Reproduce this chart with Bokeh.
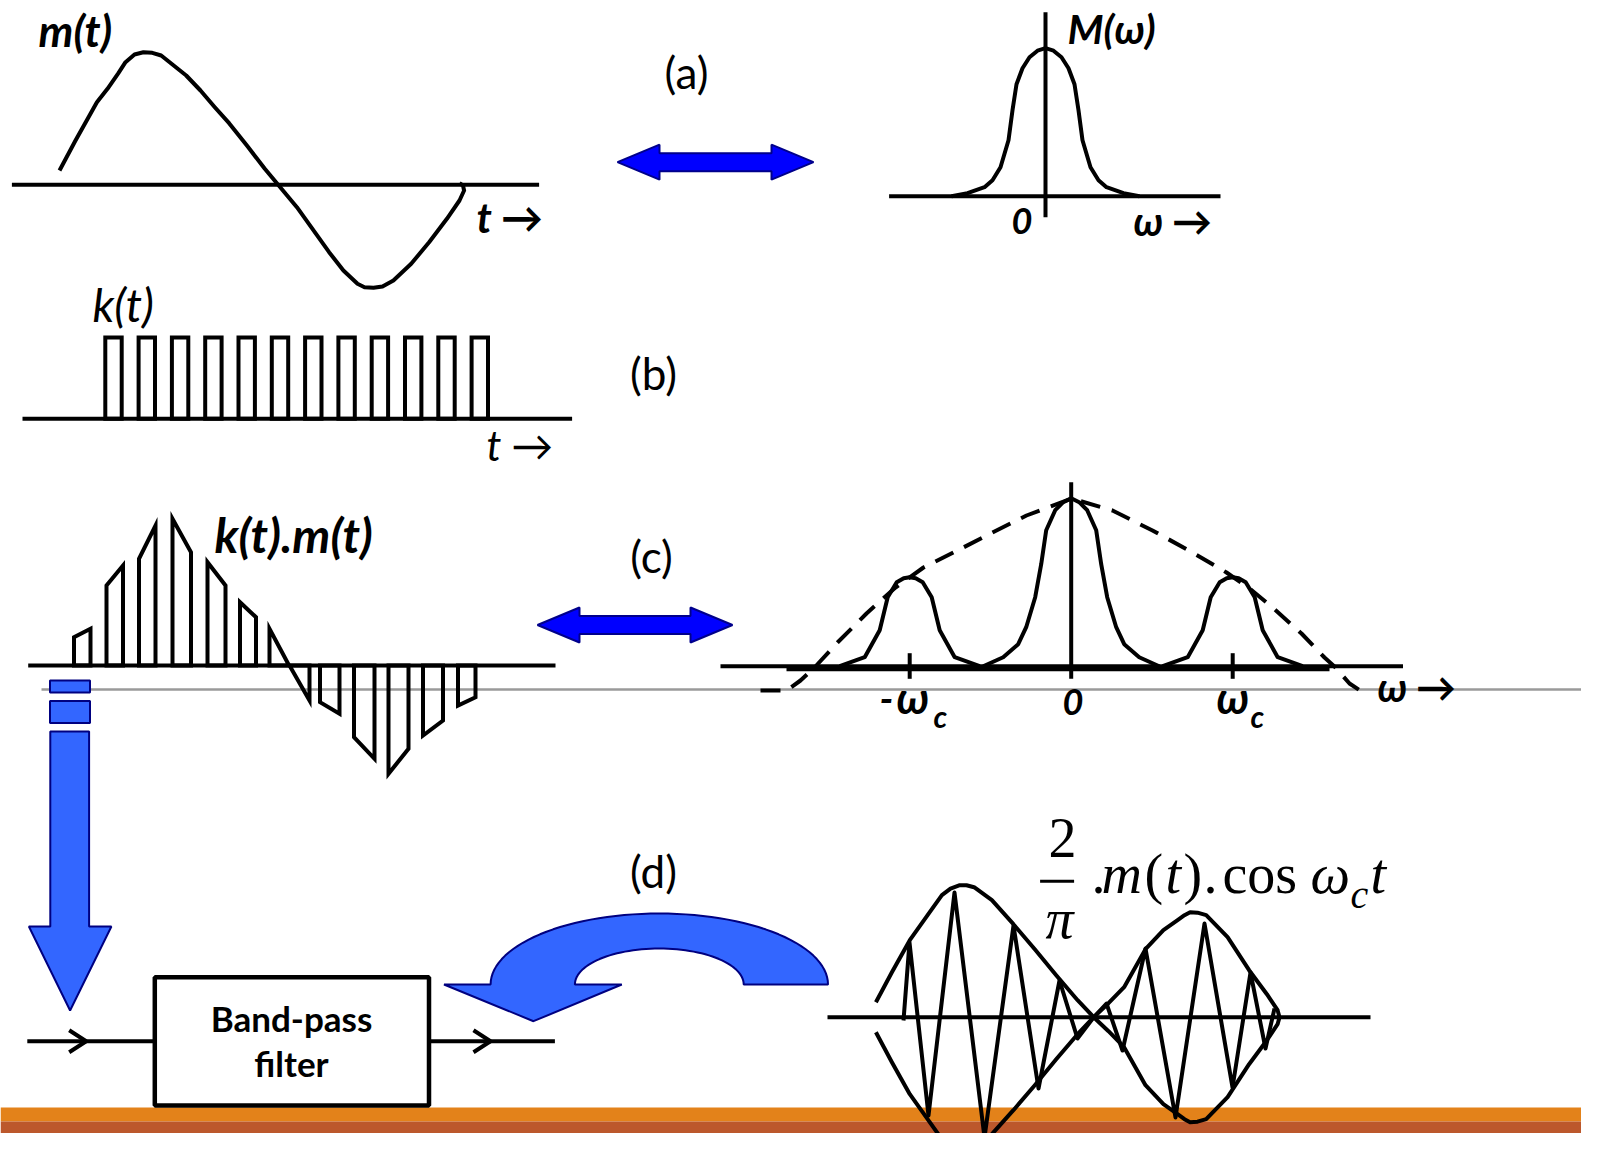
import math
from bokeh.plotting import figure
from bokeh.models import Range1d
from bokeh.core.properties import value
from bokeh.embed import file_html
from bokeh.resources import INLINE

W, H, M = 1597, 1149, 8
FW, FH = W - 2 * M, H - 2 * M

# ---------------- data (picture units) ----------------
# (a) message signal m(t)
mt_x = [59, 75, 89, 96.4, 107, 117.9, 125, 134, 142.9, 151.8, 160.7, 185.7, 200, 214.3, 228.6, 246.4, 264.3, 276.8,
        296.4, 310.7, 328.6, 342.9, 357, 364, 373, 382, 392.9, 410.7, 428.6, 446.4, 459, 463.6, 462.5, 459]
mt_y = [170, 140, 115, 101.7, 88.3, 72.7, 61.7, 54, 51.7, 52.3, 55, 75, 90, 106.7, 122.7, 145, 168.3, 183.3,
        206.7, 226.7, 251.7, 270, 283.3, 286.7, 287.3, 286, 280, 263.3, 241.7, 218.3, 200, 190, 185, 182.7]

# (a) spectrum M(w): offsets from w=0 and heights
mw_dx = [-94, -78, -61, -53, -45, -37, -33, -29, -23, -16, -8, 0, 8, 16, 23, 29, 33, 37, 45, 53, 61, 78, 94]
mw_h = [0, 3, 9, 16, 29, 56, 86, 112, 128, 139, 145.5, 148, 145.5, 139, 128, 112, 86, 56, 29, 16, 9, 3, 0]

# (b) sampling pulse train k(t): pulse centres
k_pulses = [113, 146.3, 179.6, 212.9, 246.2, 279.5, 312.8, 346.1, 379.4, 412.7, 446, 479.3]

# (c) naturally sampled signal k(t).m(t): left/right edges and top levels
km_left = [73.5, 106, 138.5, 172, 207, 239.5, 269, 289, 319.5, 353.5, 388, 422.5, 457.5]
km_right = [90, 122.5, 155, 190.5, 225, 255.5, 288.6, 309, 339, 374, 408, 442.5, 475]
km_top_l = [636.7, 585, 558.3, 518.3, 561.7, 601.7, 628.3, 665, 701.7, 736.7, 773.3, 735, 705]
km_top_r = [628.3, 565, 525, 551.7, 585, 616.7, 665, 700, 713.3, 758.3, 748.3, 720, 696.7]

# (c) spectrum of the sampled signal
c0_dx = [-88, -68, -53, -45, -36, -30, -25, -16, -8, 0, 8, 16, 25, 30, 36, 45, 53, 68, 88]
c0_h = [0, 9, 22, 39, 69, 102, 136, 156, 164, 168, 164, 156, 136, 102, 69, 39, 22, 9, 0]
c1_dx = [-70, -45, -30, -22, -13, -6, 0, 6, 13, 22, 30, 45, 70]
c1_h = [0, 9, 36, 69, 84, 88, 89, 88, 84, 69, 36, 9, 0]
dash_x = [760, 786, 800, 814, 837, 866, 895, 923, 957, 992, 1026, 1071, 1112, 1152, 1192, 1226, 1249, 1272, 1301, 1324, 1335, 1349, 1364]
dash_y = [690, 690, 680, 667, 642, 613, 587, 567, 550, 532, 515, 498, 510, 530, 552, 572, 588, 607, 633, 657, 667, 683, 693]

# (d) band-pass output: envelope (2/pi)m(t) and carrier extremes
env_x = [875.4, 891.4, 909.3, 927.1, 941.4, 950, 959.3, 966, 973.6, 991.4, 1012.9, 1034.3, 1055.7, 1077.1, 1093.2,
         1108, 1123.6, 1145, 1162.9, 1177.1, 1184, 1189.6, 1197, 1205.7, 1227.1, 1248.6, 1266.4, 1277.1, 1279]
env_m = [15, 45, 77, 102, 122, 128.5, 132, 132, 130, 117, 93, 68, 42, 17, 0,
         -14, -30, -68, -87, -97, -102, -105, -104.5, -102, -80, -47, -23, -7, 0]
car_x = [903, 909, 928, 954, 984, 1013, 1038, 1059, 1077, 1093, 1106, 1122, 1145, 1175, 1204, 1232, 1250, 1265, 1274]
car_y = [1020, 942, 1115, 892, 1137, 925, 1088, 980, 1038, 1017, 1003, 1050, 948, 1117, 923, 1087, 972, 1048, 1008]

# texts
lbl_panels = ["(a)", "(b)", "(c)", "(d)"]
lbl_mt, lbl_Mw, lbl_kt, lbl_kmt = "m(t)", "M(ω)", "k(t)", "k(t).m(t)"
lbl_t_axis, lbl_w_axis, lbl_zero = "t →", "ω →", "0"
lbl_minus, lbl_wc, lbl_sub = "-", "ω", "c"
lbl_bpf = ["Band-pass", "filter"]

# ---------------- figure ----------------
p = figure(width=FW, height=FH, x_range=Range1d(0, FW), y_range=Range1d(FH, 0),
           output_backend="svg", toolbar_location=None, min_border=0,
           x_axis_location=None, y_axis_location=None,
           background_fill_color="white", border_fill_color="white", outline_line_color=None)
p.grid.grid_line_color = None

BLK = "black"
LW = 4
BLUE, BLUE_EDGE = "#0000FF", "#00008B"
LBLUE, LBLUE_EDGE = "#3366FF", "#000080"
FONT = "Lato"
BASE_SHIFT = 0.4   # rendered alphabetic baseline sits this many em below the given y


def txt(x, y, s, size, style="normal", font=FONT, align="left"):
    p.text(x=[x], y=[y - BASE_SHIFT * size], text=[s], text_font=value(font),
           text_font_size=value(f"{size}px"), text_font_style=style, text_align=align,
           text_baseline="alphabetic", text_color=BLK)


def seg(x0, y0, x1, y1, w=LW, color=BLK):
    p.line([x0, x1], [y0, y1], line_width=w, line_color=color)


def double_arrow(x0, x1, cy, hl=42, hh=17.5, sh=9):
    xs = [x0, x0 + hl, x0 + hl, x1 - hl, x1 - hl, x1, x1 - hl, x1 - hl, x0 + hl, x0 + hl]
    ys = [cy, cy - hh, cy - sh, cy - sh, cy - hh, cy, cy + hh, cy + sh, cy + sh, cy + hh]
    p.patch(xs, ys, fill_color=BLUE, line_color=BLUE_EDGE, line_width=2)


# background band at the bottom
p.quad(left=[0], right=[W], top=[1107], bottom=[1121], fill_color="#E3821A", line_color=None)
p.quad(left=[0], right=[W], top=[1121], bottom=[H], fill_color="#BC582C", line_color=None)

# thin grey guide line
seg(41, 689, W, 689, w=2.5, color="#9a9a9a")

# ---- (a) m(t)
seg(11.4, 184.3, 538.6, 184.3)
p.line(mt_x, mt_y, line_width=LW, line_color=BLK, line_join="round", line_cap="butt")
txt(38, 47, lbl_mt, 44, "bold italic")
txt(476, 233, lbl_t_axis, 42, "bold italic")
txt(686, 89, lbl_panels[0], 44, align="center")
double_arrow(617, 813, 161.7)

# ---- (a) M(w)
w0, base_a = 1045, 195.7
seg(888.6, base_a, 1220, base_a)
seg(w0, 11.7, w0, 216.7)
p.line([w0 + d for d in mw_dx], [base_a - h for h in mw_h], line_width=LW, line_color=BLK, line_join="round")
txt(1067, 44, lbl_Mw, 41, "bold italic")
txt(1011, 235, lbl_zero, 36, "bold italic")
txt(1133, 236, lbl_w_axis, 40, "bold italic")

# ---- (b) k(t)
base_b, top_b, half_w = 418.3, 337, 8.2
seg(22, base_b, 571.6, base_b)
p.patches([[c - half_w, c - half_w, c + half_w, c + half_w] for c in k_pulses],
          [[base_b, top_b, top_b, base_b] for _ in k_pulses],
          fill_color=None, line_color=BLK, line_width=LW, line_join="miter")
txt(92, 322, lbl_kt, 46, "italic")
txt(486, 461, lbl_t_axis, 42, "italic")
txt(653, 390, lbl_panels[1], 44, align="center")

# ---- (c) k(t).m(t)
base_c = 665
seg(27.7, base_c, 555, base_c)
p.patches([[l, l, r, r] for l, r in zip(km_left, km_right)],
          [[base_c, tl, tr, base_c] for tl, tr in zip(km_top_l, km_top_r)],
          fill_color=None, line_color=BLK, line_width=LW, line_join="miter")
txt(214, 553, lbl_kmt, 48, "bold italic")
txt(651, 573, lbl_panels[2], 44, align="center")
double_arrow(537, 732, 624.5)

# ---- (c) spectrum
w0c, base_s, wc = 1070.7, 665.7, 161.5
seg(720, base_s, 1402.5, base_s)
seg(786, base_s + 3, 1329, base_s + 3)
seg(w0c, 481.7, w0c, 678.3)
for cc in (w0c - wc, w0c + wc):
    seg(cc, 652.7, cc, 678.3)
    p.line([cc + d for d in c1_dx], [base_s - h for h in c1_h], line_width=LW, line_color=BLK, line_join="round")
p.line([w0c + d for d in c0_dx], [base_s - h for h in c0_h], line_width=LW, line_color=BLK, line_join="round")
p.line(dash_x, dash_y, line_width=LW, line_color=BLK, line_dash="20 12")
txt(879, 714, lbl_minus, 40, "bold italic")
txt(896, 714, lbl_wc, 44, "bold italic")
txt(933, 727, lbl_sub, 30, "bold italic")
txt(1062, 716, lbl_zero, 36, "bold italic")
txt(1216, 714, lbl_wc, 44, "bold italic")
txt(1250, 727, lbl_sub, 30, "bold italic")
txt(1377, 702, lbl_w_axis, 40, "bold italic")

# ---- blue arrow down from (c) to the filter
p.quad(left=[49.5, 49.5], right=[89.5, 89.5], top=[680, 700.5], bottom=[692, 722.5],
       fill_color=LBLUE, line_color=LBLUE_EDGE, line_width=2)
p.patch([49.8, 88.6, 88.6, 110.9, 69.6, 28.4, 49.8], [731, 731, 926, 926, 1010, 926, 926],
        fill_color=LBLUE, line_color=LBLUE_EDGE, line_width=2)

# ---- (d) band-pass filter block
sig_y = 1040.7
seg(26.8, sig_y, 154.3, sig_y)
seg(428.5, sig_y, 554.4, sig_y)
for cx in (85.7, 490):
    p.line([cx - 17, cx, cx - 17], [sig_y - 11, sig_y, sig_y + 11], line_width=LW, line_color=BLK)
p.quad(left=[154.3], right=[428.5], top=[976.7], bottom=[1105], fill_color="white", line_color=BLK, line_width=4.5)
txt(291, 1031.5, lbl_bpf[0], 35, "bold", align="center")
txt(291, 1076.5, lbl_bpf[1], 35, "bold", align="center")
txt(653, 888, lbl_panels[3], 44, align="center")

# curved blue arrow
acx, abase = 658.8, 984
n = 60
ox = [acx + 168.7 * math.cos(math.pi * (1 - i / n)) for i in range(n + 1)]
oy = [abase - 71 * math.sin(math.pi * (1 - i / n)) for i in range(n + 1)]
ix = [acx + 84.4 * math.cos(math.pi * i / n) for i in range(n + 1)]
iy = [abase - 36 * math.sin(math.pi * i / n) for i in range(n + 1)]
p.patch(ox + ix + [621.3, 533, 443.5], oy + iy + [abase, 1020.7, abase],
        fill_color=LBLUE, line_color=LBLUE_EDGE, line_width=2)

# ---- (d) output waveform (2/pi) m(t) cos(wc t)
base_d = 1016.7
seg(827, base_d, 1370, base_d)
p.line(env_x, [base_d - m for m in env_m], line_width=LW, line_color=BLK, line_join="round")
p.line(env_x, [base_d + m for m in env_m], line_width=LW, line_color=BLK, line_join="round")
p.line(car_x, car_y, line_width=LW, line_color=BLK, line_join="round")

# formula  2/pi . m(t) . cos wc t
SER = "Liberation Serif"
txt(1062, 860, "2", 56, align="center", font=SER)
seg(1039.6, 880.7, 1073.6, 880.7, w=3)
txt(1059, 941, "π", 56, "italic", align="center", font=SER)
txt(1091, 896, ".", 56, font=SER)
txt(1101, 896, "m", 56, "italic", font=SER)
txt(1144, 896, "(", 56, font=SER)
txt(1165, 896, "t", 56, "italic", font=SER)
txt(1183, 896, ")", 56, font=SER)
txt(1203, 896, ".", 56, font=SER)
txt(1222, 896, "cos", 56, font=SER)
txt(1310, 896, "ω", 56, "italic", font=SER)
txt(1350, 910, "c", 40, "italic", font=SER)
txt(1370, 896, "t", 56, "italic", font=SER)

open("out.html", "w").write(file_html(p, INLINE))
